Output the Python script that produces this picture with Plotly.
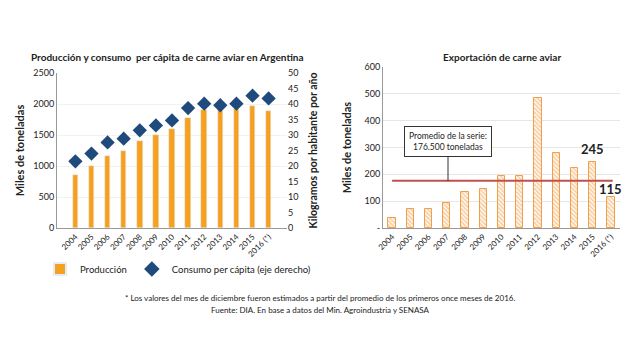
import plotly.graph_objects as go

years = ["2004", "2005", "2006", "2007", "2008", "2009", "2010", "2011", "2012", "2013", "2014", "2015", "2016 (*)"]
produccion = [860, 1005, 1156, 1237, 1398, 1495, 1597, 1780, 1898, 1909, 1920, 1960, 1890]
consumo = [21.5, 24.0, 27.6, 28.8, 31.5, 33.1, 34.7, 38.7, 40.1, 39.6, 40.1, 42.7, 41.8]
exportacion = [38, 72, 72, 93, 134, 145, 194, 194, 483, 280, 225, 245, 115]
promedio = 176.5

ORANGE = "#F5A01E"
HATCH = "#F0A04A"
BLUE = "#1F4A7C"
RED = "#C0504D"
FONT = "Lato"

fig = go.Figure()

fig.add_trace(go.Bar(x=years, y=produccion, name="Producción", marker=dict(color=ORANGE),
                     width=0.34, xaxis="x", yaxis="y"))
fig.add_trace(go.Scatter(x=years, y=consumo, name="Consumo per cápita (eje derecho)", mode="markers",
                         marker=dict(symbol="diamond", color=BLUE, size=11), xaxis="x", yaxis="y2"))
fig.add_trace(go.Bar(x=years, y=exportacion, showlegend=False, width=0.4,
                     marker=dict(color="white", line=dict(color=HATCH, width=1),
                                 pattern=dict(shape="\\", fgcolor=HATCH, bgcolor="white", size=3, solidity=0.6)),
                     xaxis="x2", yaxis="y3"))

i2015 = years.index("2015")
i2016 = years.index("2016 (*)")

tickf = dict(family=FONT, size=9, color="#222")
xtickf = dict(family=FONT, size=8, color="#222")
fig.update_layout(
    width=640, height=360, margin=dict(l=0, r=0, t=0, b=0, autoexpand=False),
    paper_bgcolor="white", plot_bgcolor="white",
    font=dict(family=FONT, color="#222"),
    bargap=0,
    xaxis=dict(type="category", domain=[57/640, 287/640], anchor="y", tickangle=-45, tickfont=xtickf,
               showline=True, linecolor="#999", ticks="", showgrid=False),
    yaxis=dict(domain=[1-228/360, 1-73/360], range=[0, 2500], dtick=500, tickfont=tickf,
               showline=True, linecolor="#999", showgrid=True, gridcolor="#F2F2F2", zeroline=False,
               title=dict(text="<b>Miles de toneladas</b>", font=dict(family=FONT, size=11), standoff=6)),
    yaxis2=dict(overlaying="y", side="right", anchor="x", range=[0, 50], dtick=5, tickfont=tickf,
                showgrid=False, zeroline=False,
                title=dict(text="<b>Kilogramos por habitante por año</b>", font=dict(family=FONT, size=10.5), standoff=12)),
    xaxis2=dict(type="category", domain=[383/640, 620/640], anchor="y3", tickangle=-45, tickfont=xtickf,
                showline=True, linecolor="#999", ticks="", showgrid=False, range=[-0.5, 12.5]),
    yaxis3=dict(domain=[1-228/360, 1-67/360], anchor="x2", range=[0, 600], tickfont=tickf,
                tickvals=[0, 100, 200, 300, 400, 500, 600],
                ticktext=["-", "100", "200", "300", "400", "500", "600"],
                showline=True, linecolor="#999", showgrid=True, gridcolor="#E6E6E6", zeroline=False,
                title=dict(text="<b>Miles de toneladas</b>", font=dict(family=FONT, size=11), standoff=10)),
    legend=dict(orientation="h", x=40/640, y=1-269/360, xanchor="left", yanchor="middle",
                font=dict(family=FONT, size=9.5), itemwidth=30, itemsizing="constant",
                bgcolor="rgba(0,0,0,0)"),
    annotations=[
        dict(text="<b>Producción y consumo  per cápita de carne aviar en Argentina</b>", x=167/640, y=1-57/360,
             xref="paper", yref="paper", showarrow=False, font=dict(family=FONT, size=10),
             xanchor="center", yanchor="middle"),
        dict(text="<b>Exportación de carne aviar</b>", x=502/640, y=1-57/360,
             xref="paper", yref="paper", showarrow=False, font=dict(family=FONT, size=10),
             xanchor="center", yanchor="middle"),
        dict(text="Promedio de la serie:<br>176.500 toneladas", x=448/640, y=1-142/360,
             xref="paper", yref="paper", showarrow=False, font=dict(family=FONT, size=8.5),
             bordercolor="#333", borderwidth=1, borderpad=4, bgcolor="white", xanchor="center", yanchor="middle"),
        dict(text="<b>%d</b>" % exportacion[i2015], x=i2015, y=exportacion[i2015], xref="x2", yref="y3",
             showarrow=False, yanchor="bottom", yshift=3, font=dict(family=FONT, size=13)),
        dict(text="<b>%d</b>" % exportacion[i2016], x=i2016, y=exportacion[i2016], xref="x2", yref="y3",
             showarrow=False, yanchor="bottom", yshift=-2, font=dict(family=FONT, size=13)),
        dict(text="* Los valores del mes de diciembre fueron estimados a partir del promedio de los primeros once meses de 2016.",
             x=0.5, y=1-298/360, xref="paper", yref="paper", showarrow=False, font=dict(family=FONT, size=8),
             yanchor="middle"),
        dict(text="Fuente: DIA. En base a datos del Min. Agroindustria y SENASA",
             x=0.5, y=1-310/360, xref="paper", yref="paper", showarrow=False, font=dict(family=FONT, size=8),
             yanchor="middle"),
    ],
    shapes=[
        dict(type="line", xref="x2", yref="y3", x0=0, x1=12.1, y0=promedio, y1=promedio,
             line=dict(color=RED, width=2)),
        dict(type="line", xref="paper", yref="paper", x0=448/640, x1=448/640, y0=1-157/360, y1=1-181/360,
             line=dict(color="#333", width=1)),
    ],
)

fig.write_html("out.html", config={"displayModeBar": False},
               post_script="document.body.style.margin='0';")
